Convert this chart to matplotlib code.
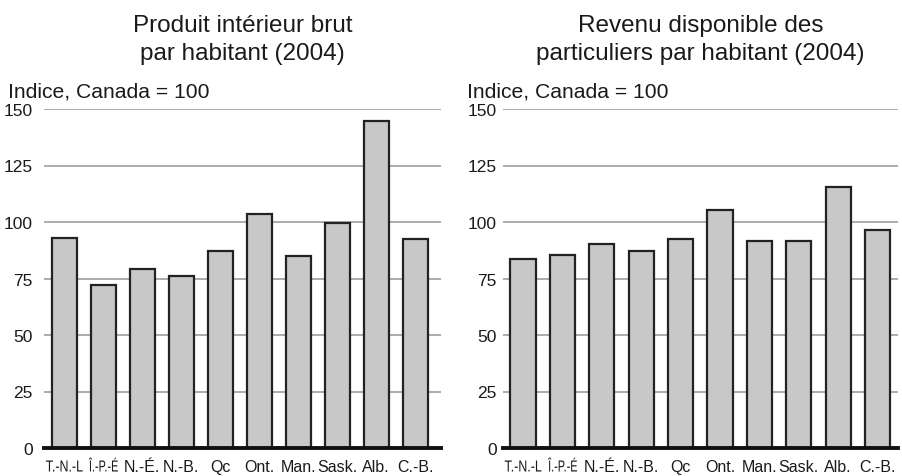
import matplotlib
matplotlib.use("Agg")
import matplotlib.pyplot as plt
import matplotlib.transforms as mtransforms
from matplotlib.textpath import TextPath
from matplotlib.patches import PathPatch
from matplotlib.font_manager import FontProperties
import numpy as np

plt.rcParams['font.family'] = ['Liberation Sans', 'DejaVu Sans']

provinces = ["T.-N.-L", "Î.-P.-É", "N.-É.", "N.-B.", "Qc", "Ont.", "Man.", "Sask.", "Alb.", "C.-B."]
pib = [93, 72, 79, 76, 87, 103.4, 84.8, 99.7, 144.7, 92.6]
revenu = [83.5, 85.3, 90.3, 87, 92.5, 105.4, 91.7, 91.7, 115.5, 96.4]
yticks = [0, 25, 50, 75, 100, 125, 150]

titres = ["Produit intérieur brut\npar habitant (2004)",
          "Revenu disponible des\nparticuliers par habitant (2004)"]

W, H = 902, 477
DPI = 100
fig = plt.figure(figsize=(W / DPI, H / DPI), dpi=DPI)

# positions des axes en pixels (gauche, droite)
cadres = [(44, 441, -0.52, 9.66, 11), (503, 898, -0.51, 9.52, 6)]
donnees = [pib, revenu]
prop = FontProperties(family='Liberation Sans')
compression = [0.78, 0.68]   # largeur relative des deux étiquettes serrées

for (x0, x1, xmin, xmax, pad), vals, titre in zip(cadres, donnees, titres):
    ax = fig.add_axes([x0 / W, 1 - 449 / H, (x1 - x0) / W, (449 - 110) / H])
    x = np.arange(len(provinces))
    ax.bar(x, vals, width=0.64, color="#c8c8c8", edgecolor="#222222", linewidth=1.6, zorder=3)
    ax.set_xlim(xmin, xmax)
    ax.set_ylim(0, 150)
    ax.set_yticks(yticks)
    ax.yaxis.grid(True, color="#959595", linewidth=1.1, zorder=0)
    ax.axhline(0, color="#111111", linewidth=2.8, zorder=4, clip_on=False)
    for s in ax.spines.values():
        s.set_visible(False)
    ax.tick_params(axis="y", length=0, pad=pad * 0.72, labelsize=12.5, labelcolor="#1a1a1a")
    ax.tick_params(axis="x", length=0, pad=7.6, labelsize=11.5, labelcolor="#1a1a1a")
    ax.set_xticks(x)
    # les deux premières étiquettes sont compressées horizontalement
    ax.set_xticklabels([""] * 2 + provinces[2:])
    mix = mtransforms.blended_transform_factory(ax.transData, ax.transAxes)
    for i in range(2):
        tp = TextPath((0, 0), provinces[i], size=11.5, prop=prop)
        bb = tp.get_extents()
        t = (mtransforms.Affine2D().translate(-(bb.x0 + bb.x1) / 2, 0)
             .scale(compression[i] * DPI / 72, DPI / 72)
             + mtransforms.ScaledTranslation(x[i], (449 - 472.5) / 339, mix))
        ax.add_artist(PathPatch(tp, transform=t, color="#1a1a1a", lw=0, clip_on=False))
    cx = (x0 + x1) / 2 / W
    l1, l2 = titre.split("\n")
    fig.text(cx, 1 - 32 / H, l1, ha="center", va="baseline", fontsize=17.5, color="#1a1a1a")
    fig.text(cx, 1 - 60 / H, l2, ha="center", va="baseline", fontsize=17.5, color="#1a1a1a")
    fig.text((x0 - 36) / W, 1 - 97 / H, "Indice, Canada = 100", ha="left", va="baseline", fontsize=15.2, color="#1a1a1a")

fig.savefig("out.png", dpi=DPI)
